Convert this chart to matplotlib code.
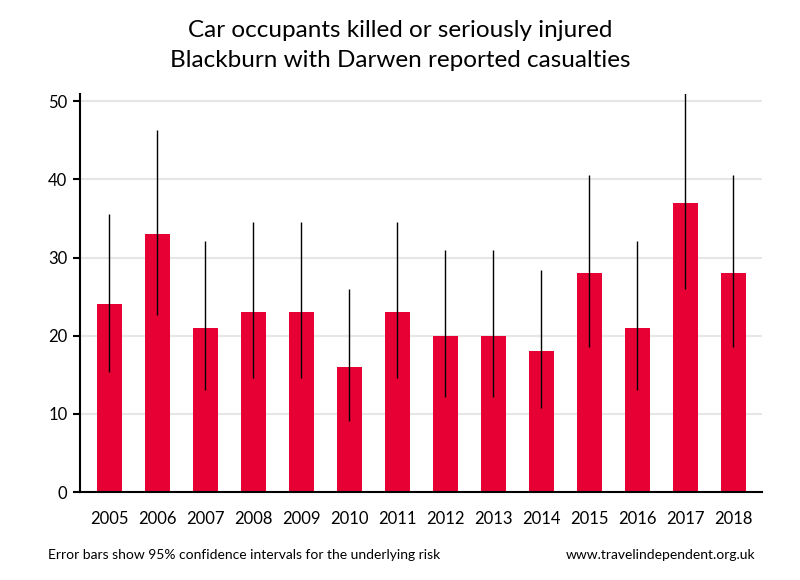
import numpy as np
import matplotlib.pyplot as plt

plt.rcParams['font.family'] = ['Lato', 'DejaVu Sans']

# data
years = ['2005', '2006', '2007', '2008', '2009', '2010', '2011',
         '2012', '2013', '2014', '2015', '2016', '2017', '2018']
casualties = [24, 33, 21, 23, 23, 16, 23, 20, 20, 18, 28, 21, 37, 28]
ci_low = [15.3, 22.6, 13.0, 14.6, 14.6, 9.1, 14.6, 12.2, 12.2, 10.7, 18.6, 13.0, 26.0, 18.6]
ci_high = [35.6, 46.3, 32.1, 34.5, 34.5, 26.0, 34.5, 30.9, 30.9, 28.4, 40.5, 32.1, 51.0, 40.5]


def plot():
    fig = plt.figure(figsize=(8, 5.8), dpi=100)
    ax = fig.add_axes([0.1, 0.1517, 0.8525, 0.686])
    x = np.arange(len(years))
    ax.bar(x, casualties, width=0.52, color='#E60033', zorder=2)
    # error bars as plain vertical lines
    ax.vlines(x, ci_low, ci_high, color='black', lw=1, zorder=3)

    ax.set_xlim(-0.61, len(years) - 0.4)
    ax.set_ylim(0, 50.9)
    ax.set_yticks([0, 10, 20, 30, 40, 50])
    ax.set_xticks(x)
    ax.set_xticklabels(years)
    ax.yaxis.grid(True, color='#e6e6e6', lw=1.5, zorder=0)
    ax.set_axisbelow(True)
    for s in ['top', 'right']:
        ax.spines[s].set_visible(False)
    ax.spines['left'].set_linewidth(1.5)
    ax.spines['bottom'].set_linewidth(1.5)
    ax.tick_params(axis='y', length=5, width=1.5, labelsize=12, pad=4)
    ax.tick_params(axis='x', length=0, labelsize=12, pad=14)

    fig.text(0.5, 0.948, 'Car occupants killed or seriously injured',
             ha='center', va='center', fontsize=17.5)
    fig.text(0.5, 0.895, 'Blackburn with Darwen reported casualties',
             ha='center', va='center', fontsize=17.5)
    fig.text(0.06, 0.043, 'Error bars show 95% confidence intervals for the underlying risk',
             ha='left', va='center', fontsize=10)
    fig.text(0.944, 0.043, 'www.travelindependent.org.uk',
             ha='right', va='center', fontsize=10)
    fig.savefig('out.png', dpi=100)


if __name__ == '__main__':
    plot()
